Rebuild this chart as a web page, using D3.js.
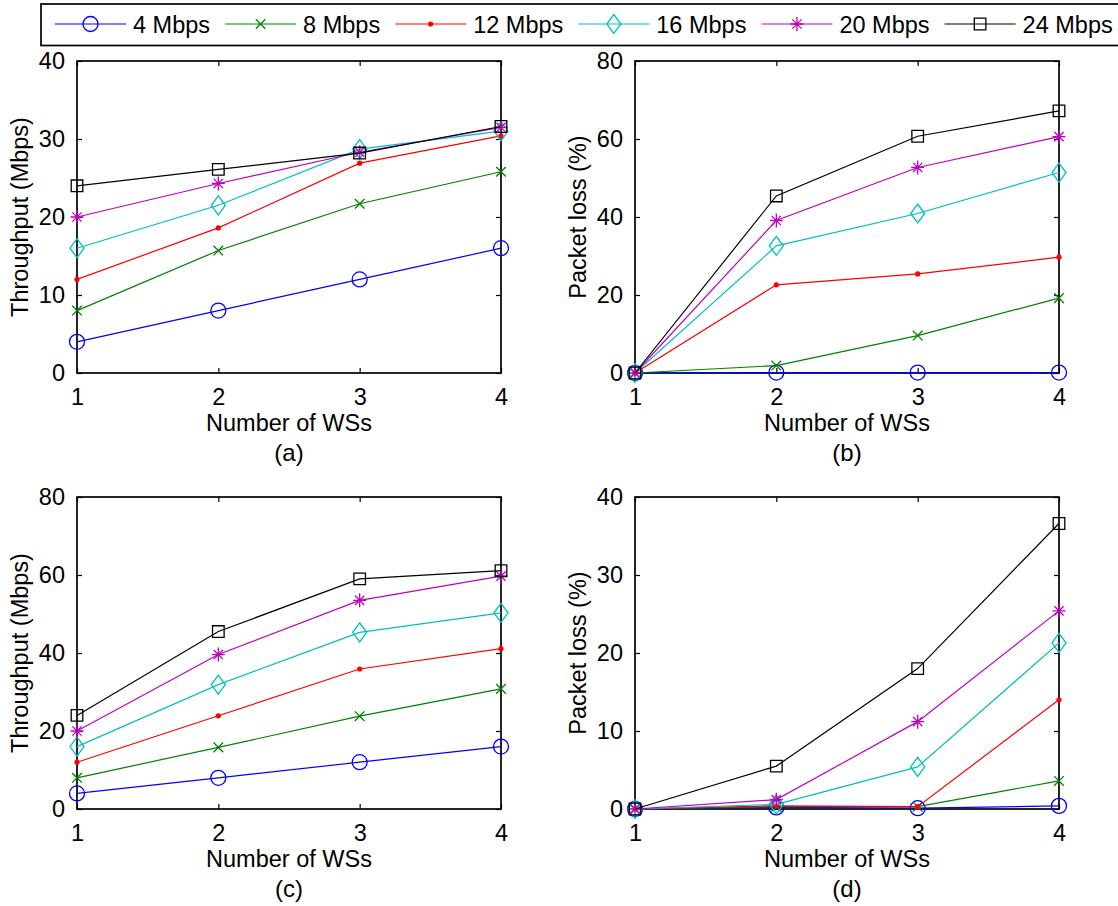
<!DOCTYPE html>
<html>
<head>
<meta charset="utf-8">
<script src="https://cdn.jsdelivr.net/npm/d3@7"></script>
<style>
  html, body { margin: 0; padding: 0; background: #fff; }
  svg { display: block; font-family: "Liberation Sans", Arial, sans-serif; }
</style>
</head>
<body>
<div id="chart"></div>
<script>
// number of WSs on the x axis
const wsCounts = [1, 2, 3, 4];
const rateLabels = ['4 Mbps', '8 Mbps', '12 Mbps', '16 Mbps', '20 Mbps', '24 Mbps'];

// (a) throughput, scenario 1
const throughputA = [
    [4, 8, 12, 16],
    [8, 15.7, 21.7, 25.8],
    [12, 18.6, 26.9, 30.4],
    [16, 21.5, 28.7, 31.0],
    [20, 24.3, 28.3, 31.5],
    [24, 26.1, 28.2, 31.6]
];
// (b) packet loss, scenario 1
const lossB = [
    [0, 0.1, 0.1, 0.1],
    [0, 1.9, 9.6, 19.2],
    [0, 22.6, 25.4, 29.7],
    [0, 32.6, 40.9, 51.4],
    [0, 39.1, 52.7, 60.6],
    [0, 45.4, 60.7, 67.2]
];
// (c) throughput, scenario 2
const throughputC = [
    [4, 8, 12, 16],
    [8, 15.8, 23.8, 30.8],
    [12, 23.9, 35.9, 41.1],
    [16, 31.9, 45.3, 50.3],
    [20, 39.6, 53.5, 59.7],
    [24, 45.5, 59.0, 61.1]
];
// (d) packet loss, scenario 2
const lossD = [
    [0, 0.2, 0.1, 0.4],
    [0, 0.3, 0.3, 3.6],
    [0, 0.4, 0.3, 14.0],
    [0, 0.6, 5.4, 21.3],
    [0, 1.2, 11.2, 25.4],
    [0, 5.5, 18.0, 36.6]
];

const yTicksA = [0, 10, 20, 30, 40];
const yTicksB = [0, 20, 40, 60, 80];
const yTicksC = [0, 20, 40, 60, 80];
const yTicksD = [0, 10, 20, 30, 40];

const COLORS = ['#0000ff', '#008000', '#ff0000', '#00bfbf', '#bf00bf', '#000000'];
const MARKERS = ['circle', 'x', 'dot', 'diamond', 'asterisk', 'square'];

const W = 1118, H = 906;
const FONT = 23.5;
const PLOT_W = 424, PLOT_H = 312;

const panels = [
    { x: 77, y: 61, data: throughputA, ticks: yTicksA, ylabel: 'Throughput (Mbps)', tag: '(a)' },
    { x: 635, y: 61, data: lossB, ticks: yTicksB, ylabel: 'Packet loss (%)', tag: '(b)' },
    { x: 77, y: 497, data: throughputC, ticks: yTicksC, ylabel: 'Throughput (Mbps)', tag: '(c)' },
    { x: 635, y: 497, data: lossD, ticks: yTicksD, ylabel: 'Packet loss (%)', tag: '(d)' }
];

function markerPath(type) {
    switch (type) {
        case 'circle': return d3.symbol(d3.symbolCircle, Math.PI * 7.5 * 7.5)();
        case 'x': return 'M-4.8,-4.8L4.8,4.8M-4.8,4.8L4.8,-4.8';
        case 'dot': return d3.symbol(d3.symbolCircle, Math.PI * 2.6 * 2.6)();
        case 'diamond': return 'M0,-9.5L7,0L0,9.5L-7,0Z';
        case 'asterisk': return 'M0,-7L0,7M-6.5,0L6.5,0M-4.6,-4.6L4.6,4.6M-4.6,4.6L4.6,-4.6';
        case 'square': return 'M-5.8,-5.8H5.8V5.8H-5.8Z';
    }
}

function drawMarker(g, type, color) {
    g.append('path')
        .attr('d', markerPath(type))
        .attr('fill', type === 'dot' ? color : 'none')
        .attr('stroke', color)
        .attr('stroke-width', type === 'dot' ? 0 : 1.3);
}

const svg = d3.select('#chart').append('svg')
    .attr('width', W)
    .attr('height', H);

function drawPanel(p) {
    const g = svg.append('g').attr('transform', `translate(${p.x},${p.y})`);
    const x = d3.scaleLinear().domain([1, 4]).range([0, PLOT_W]);
    const y = d3.scaleLinear().domain(d3.extent(p.ticks)).range([PLOT_H, 0]);

    // inward ticks on all four sides
    const tickLen = 5;
    g.append('g').attr('transform', `translate(0,${PLOT_H})`)
        .call(d3.axisBottom(x).tickValues(wsCounts).tickFormat(d3.format('d')).tickSizeInner(-tickLen).tickSizeOuter(0).tickPadding(15));
    g.append('g')
        .call(d3.axisTop(x).tickValues(wsCounts).tickFormat('').tickSizeInner(-tickLen).tickSizeOuter(0));
    g.append('g')
        .call(d3.axisLeft(y).tickValues(p.ticks).tickSizeInner(-tickLen).tickSizeOuter(0).tickPadding(12));
    g.append('g').attr('transform', `translate(${PLOT_W},0)`)
        .call(d3.axisRight(y).tickValues(p.ticks).tickFormat('').tickSizeInner(-tickLen).tickSizeOuter(0));

    g.selectAll('.domain').remove();
    g.selectAll('.tick line').attr('stroke', '#000').attr('stroke-width', 1.2);
    g.selectAll('.tick text').attr('font-size', FONT).attr('fill', '#000')
        .attr('font-family', '"Liberation Sans", Arial, sans-serif');

    g.append('rect')
        .attr('width', PLOT_W).attr('height', PLOT_H)
        .attr('fill', 'none').attr('stroke', '#000').attr('stroke-width', 1.7);

    const line = d3.line().x((d, i) => x(wsCounts[i])).y(d => y(d));
    p.data.forEach((series, s) => {
        g.append('path')
            .datum(series)
            .attr('d', line)
            .attr('fill', 'none')
            .attr('stroke', COLORS[s])
            .attr('stroke-width', 1.2);
        series.forEach((v, i) => {
            const m = g.append('g').attr('transform', `translate(${x(wsCounts[i])},${y(v)})`);
            drawMarker(m, MARKERS[s], COLORS[s]);
        });
    });

    g.append('text')
        .attr('x', PLOT_W / 2).attr('y', PLOT_H + 58)
        .attr('text-anchor', 'middle').attr('font-size', FONT)
        .text('Number of WSs');
    g.append('text')
        .attr('x', PLOT_W / 2).attr('y', PLOT_H + 88)
        .attr('text-anchor', 'middle').attr('font-size', FONT + 0.5)
        .text(p.tag);
    g.append('text')
        .attr('transform', `translate(-49,${PLOT_H / 2}) rotate(-90)`)
        .attr('text-anchor', 'middle').attr('font-size', FONT)
        .text(p.ylabel);
}

panels.forEach(drawPanel);

// legend across the top
const legend = svg.append('g');
legend.append('rect')
    .attr('x', 41).attr('y', 4)
    .attr('width', 1090).attr('height', 41.5)
    .attr('fill', '#fff').attr('stroke', '#000').attr('stroke-width', 1.7);

let lx = 55;
rateLabels.forEach((label, s) => {
    const item = legend.append('g').attr('transform', `translate(${lx},24)`);
    item.append('line')
        .attr('x1', 0).attr('x2', 71)
        .attr('stroke', COLORS[s]).attr('stroke-width', 1.2);
    drawMarker(item.append('g').attr('transform', 'translate(35.5,0)'), MARKERS[s], COLORS[s]);
    const t = item.append('text')
        .attr('x', 78).attr('y', 9)
        .attr('font-size', FONT)
        .text(label);
    lx += 78 + t.node().getComputedTextLength() + 15;
});
</script>
</body>
</html>
